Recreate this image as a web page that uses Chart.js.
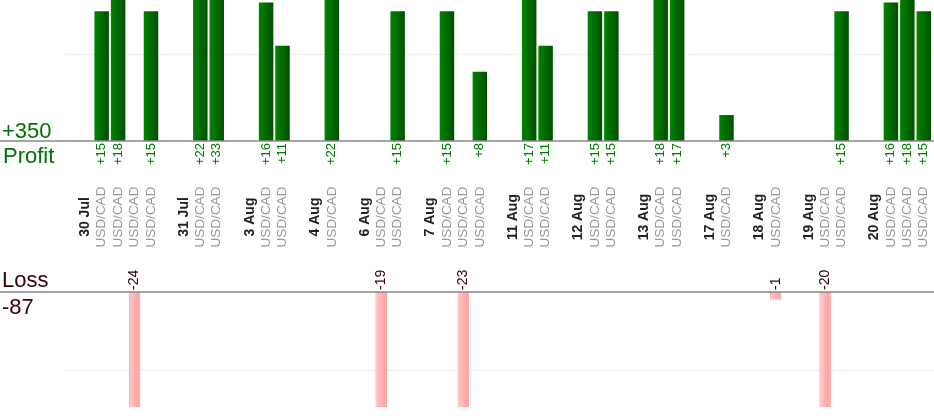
<!DOCTYPE html>
<html>
<head>
<meta charset="utf-8">
<script src="https://cdn.jsdelivr.net/npm/chart.js@4"></script>
<style>
  html, body { margin: 0; padding: 0; background: #fff; }
  #wrap { position: relative; width: 934px; height: 420px; overflow: hidden; }
  #wrap canvas { position: absolute; left: 0; }
</style>
</head>
<body>
<div id="wrap">
  <canvas id="profitChart" width="934" height="260" style="top:0"></canvas>
  <canvas id="lossChart" width="934" height="160" style="top:260px"></canvas>
</div>
<script>
// one slot per trade, a date heads each day, empty slot between days
const labels = [
  "30 Jul", "USD/CAD", "USD/CAD", "USD/CAD", "USD/CAD", "",
  "31 Jul", "USD/CAD", "USD/CAD", "",
  "3 Aug", "USD/CAD", "USD/CAD", "",
  "4 Aug", "USD/CAD", "",
  "6 Aug", "USD/CAD", "USD/CAD", "",
  "7 Aug", "USD/CAD", "USD/CAD", "USD/CAD", "",
  "11 Aug", "USD/CAD", "USD/CAD", "",
  "12 Aug", "USD/CAD", "USD/CAD", "",
  "13 Aug", "USD/CAD", "USD/CAD", "",
  "17 Aug", "USD/CAD", "",
  "18 Aug", "USD/CAD", "",
  "19 Aug", "USD/CAD", "USD/CAD", "",
  "20 Aug", "USD/CAD", "USD/CAD", "USD/CAD"
];
const profit = [
  null, 15, 18, null, 15, null,
  null, 22, 33, null,
  null, 16, 11, null,
  null, 22, null,
  null, null, 15, null,
  null, 15, null, 8, null,
  null, 17, 11, null,
  null, 15, 15, null,
  null, 18, 17, null,
  null, 3, null,
  null, null, null,
  null, null, 15, null,
  null, 16, 18, 15
];
const loss = [
  null, null, null, -24, null, null,
  null, null, null, null,
  null, null, null, null,
  null, null, null,
  null, -19, null, null,
  null, null, -23, null, null,
  null, null, null, null,
  null, null, null, null,
  null, null, null, null,
  null, null, null,
  null, -1, null,
  null, -20, null, null,
  null, null, null, null
];
const totalProfit = "+350";
const totalLoss = "-87";

const FONT = "'Liberation Sans', Arial, sans-serif";

function isDate(l) { return l !== "" && l !== "USD/CAD"; }

function barGradient(context, c1, c2) {
  const chart = context.chart;
  if (!chart.chartArea) return c2;
  const x = chart.scales.x.getPixelForValue(context.dataIndex);
  const g = chart.ctx.createLinearGradient(x - 7, 0, x + 7, 0);
  g.addColorStop(0, c1);
  g.addColorStop(1, c2);
  return g;
}

function lines(chart, gridValue) {
  const ctx = chart.ctx, y = chart.scales.y;
  ctx.save();
  ctx.strokeStyle = "#ececec";
  ctx.lineWidth = 1;
  ctx.beginPath();
  const gy = Math.round(y.getPixelForValue(gridValue)) + 0.5;
  ctx.moveTo(63, gy); ctx.lineTo(chart.width, gy);
  ctx.stroke();
  ctx.restore();
}

function baseline(chart) {
  const ctx = chart.ctx;
  const zy = chart.scales.y.getPixelForValue(0);
  ctx.save();
  ctx.strokeStyle = "#888";
  ctx.lineWidth = 1.5;
  ctx.beginPath();
  ctx.moveTo(0, zy); ctx.lineTo(chart.width, zy);
  ctx.stroke();
  ctx.restore();
}

function rotText(ctx, text, x, y, align) {
  ctx.save();
  ctx.translate(x, y);
  ctx.rotate(-Math.PI / 2);
  ctx.textAlign = align;
  ctx.textBaseline = "middle";
  ctx.fillText(text, 0, 0);
  ctx.restore();
}

const profitPlugin = {
  id: "profitLabels",
  beforeDatasetsDraw(chart) { lines(chart, 10); },
  afterDatasetsDraw(chart) {
    const ctx = chart.ctx, x = chart.scales.x, y = chart.scales.y;
    baseline(chart);
    const zy = y.getPixelForValue(0);
    ctx.fillStyle = "#007a00";
    ctx.font = "13px " + FONT;
    profit.forEach((v, i) => {
      if (v != null) rotText(ctx, "+" + v, x.getPixelForValue(i), zy + 2, "right");
    });
    labels.forEach((l, i) => {
      if (!l) return;
      const px = x.getPixelForValue(i);
      if (isDate(l)) {
        ctx.fillStyle = "#222";
        ctx.font = "bold 14px " + FONT;
      } else {
        ctx.fillStyle = "#999";
        ctx.font = "13.5px " + FONT;
      }
      rotText(ctx, l, px, zy + 76, "center");
    });
    ctx.save();
    ctx.fillStyle = "#007000";
    ctx.font = "22px " + FONT;
    ctx.textAlign = "left";
    ctx.textBaseline = "alphabetic";
    ctx.fillText(totalProfit, 2, zy - 3);
    ctx.fillText("Profit", 3, zy + 22);
    ctx.restore();
  }
};

const lossPlugin = {
  id: "lossLabels",
  beforeDatasetsDraw(chart) { lines(chart, -10); },
  afterDatasetsDraw(chart) {
    const ctx = chart.ctx, x = chart.scales.x, y = chart.scales.y;
    baseline(chart);
    const zy = y.getPixelForValue(0);
    ctx.fillStyle = "#330000";
    ctx.font = "14px " + FONT;
    loss.forEach((v, i) => {
      if (v != null) rotText(ctx, String(v), x.getPixelForValue(i), zy - 2, "left");
    });
    ctx.save();
    ctx.fillStyle = "#3a0000";
    ctx.font = "22px " + FONT;
    ctx.textAlign = "left";
    ctx.textBaseline = "alphabetic";
    ctx.fillText("Loss", 2, zy - 5);
    ctx.fillText(totalLoss, 2, zy + 22);
    ctx.restore();
  }
};

function baseOptions(yMin, yMax, pad) {
  return {
    responsive: false,
    animation: false,
    devicePixelRatio: 1,
    layout: { padding: pad },
    plugins: { legend: { display: false }, tooltip: { enabled: false } },
    scales: {
      x: { type: "category", display: false, offset: true },
      y: { display: false, min: yMin, max: yMax }
    }
  };
}

new Chart(document.getElementById("profitChart"), {
  type: "bar",
  data: {
    labels: labels,
    datasets: [{
      data: profit,
      backgroundColor: (c) => barGradient(c, "#008400", "#004f00"),
      barPercentage: 0.88,
      categoryPercentage: 1
    }]
  },
  options: baseOptions(0, 16.3, { left: 77, right: 2, top: 0, bottom: 119 }),
  plugins: [profitPlugin]
});

new Chart(document.getElementById("lossChart"), {
  type: "bar",
  data: {
    labels: labels,
    datasets: [{
      data: loss,
      backgroundColor: (c) => barGradient(c, "#ffcccc", "#ff9a9a"),
      borderColor: "#ff9999",
      borderWidth: 1,
      barPercentage: 0.7,
      categoryPercentage: 1
    }]
  },
  options: baseOptions(-14.75, 0, { left: 77, right: 2, top: 32, bottom: 13 }),
  plugins: [lossPlugin]
});
</script>
</body>
</html>
